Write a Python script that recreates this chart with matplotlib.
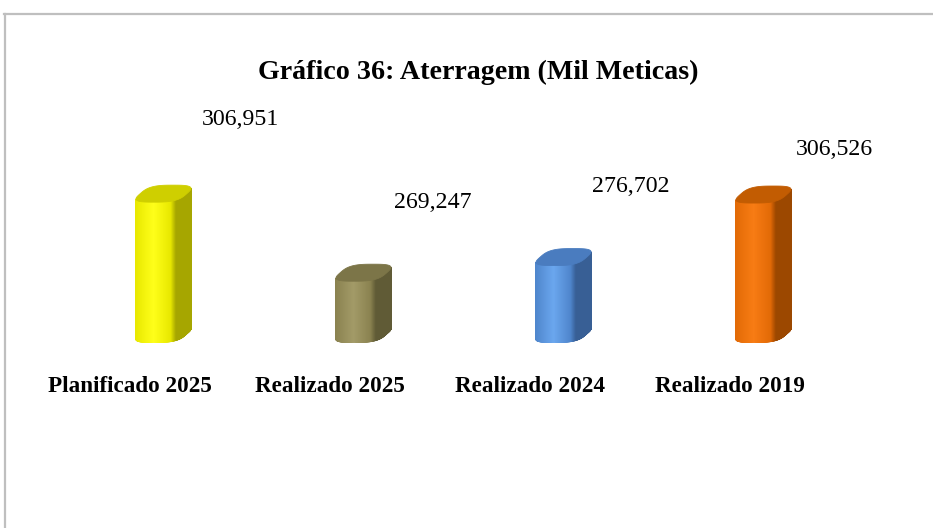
import numpy as np
import matplotlib
matplotlib.use("Agg")
import matplotlib.pyplot as plt
from matplotlib.patches import Polygon
from matplotlib.lines import Line2D
from matplotlib import transforms
from matplotlib.colors import to_rgb

categories = ['Planificado 2025', 'Realizado 2025', 'Realizado 2024', 'Realizado 2019']
values = [306951, 269247, 276702, 306526]
value_labels = ['306,951', '269,247', '276,702', '306,526']
title = 'Gráfico 36: Aterragem (Mil Meticas)'

# light / mid / dark / cap tones for each cylinder
bar_colors = [
    ('#ffff1a', '#e8e800', '#a6a600', '#cfcf00'),
    ('#a39b68', '#8a8250', '#605b36', '#7c7548'),
    ('#6ba7ef', '#4f86cc', '#385f95', '#4a7cbf'),
    ('#f87c14', '#e26a06', '#9c4800', '#c25c02'),
]
# label offsets (pixels) from the top of each cylinder
label_dx = [77, 69, 67, 71]
label_dy = [74, 70, 71, 45]

plt.rcParams['font.family'] = ['Liberation Serif', 'DejaVu Serif']

W, H = 933, 528
fig = plt.figure(figsize=(W / 100, H / 100), dpi=100)
fig.patch.set_facecolor('white')

# value axis starts at 240,000 (floor of the 3D chart)
y0, y1 = 240000, 320000
px_per_val = 1 / 477.0
ax_bottom = H - 334
ax_height = (y1 - y0) * px_per_val
ax = fig.add_axes([63.5 / W, ax_bottom / H, 800 / W, ax_height / H])
ax.set_xlim(-0.5, 3.5)
ax.set_ylim(y0, y1)
ax.axis('off')

sx_unit = 4 / 800.0              # data x per pixel
sy_unit = (y1 - y0) / ax_height  # data y per pixel

# rounded cross section, oblique projection (depth goes up-right)
n = 3.2
t = np.linspace(-np.pi, np.pi, 1441)
X = np.sign(np.cos(t)) * np.abs(np.cos(t)) ** (2 / n)
Z = np.sign(np.sin(t)) * np.abs(np.sin(t)) ** (2 / n)
px = 19.5 * X + 8.0 * Z
py = 8.5 * Z
# stretch so the silhouette is 55 px wide
px *= 55.0 / (px.max() - px.min())


def lerp(c1, c2, f):
    c1, c2 = np.array(to_rgb(c1)), np.array(to_rgb(c2))
    return tuple(c1 + (c2 - c1) * f)


def shade(u, cols):
    light, mid, dark, _ = cols
    if u < 0.33:
        return lerp(mid, light, u / 0.33)
    if u < 0.64:
        return lerp(light, mid, (u - 0.33) / 0.31)
    if u < 0.74:
        return lerp(mid, dark, (u - 0.64) / 0.10)
    return to_rgb(dark)


i_left = np.argmin(px)
i_right = np.argmax(px)
# visible arc runs from the leftmost point through the front to the rightmost
idx = np.arange(i_left, i_right + 1) if i_left < i_right else np.r_[i_left:len(t), 0:i_right + 1]
xmin, xmax = px.min(), px.max()

for i, (v, cols) in enumerate(zip(values, bar_colors)):
    cx = i
    for k in range(0, len(idx) - 1, 2):
        a, b = idx[k], idx[min(k + 2, len(idx) - 1)]
        xa, xb = cx + px[a] * sx_unit, cx + px[b] * sx_unit
        quad = [(xa, y0 + py[a] * sy_unit), (xb, y0 + py[b] * sy_unit),
                (xb, v + py[b] * sy_unit), (xa, v + py[a] * sy_unit)]
        u = ((px[a] + px[b]) / 2 - xmin) / (xmax - xmin)
        c = shade(u, cols)
        ax.add_patch(Polygon(quad, closed=True, facecolor=c, edgecolor=c,
                             linewidth=0.6, clip_on=False))
    cap = np.column_stack([cx + px * sx_unit, v + py * sy_unit])
    ax.add_patch(Polygon(cap, closed=True, facecolor=cols[3], edgecolor=cols[3],
                         linewidth=0.6, clip_on=False))

    ax.annotate(value_labels[i], xy=(cx, v), xytext=(label_dx[i], label_dy[i]),
                textcoords='offset pixels', ha='center', va='center',
                fontsize=17.2, color='black', annotation_clip=False)

# category labels sit in front of the floor, shifted left
trans = transforms.blended_transform_factory(ax.transData, fig.transFigure)
for i, name in enumerate(categories):
    ax.text(i - 33.5 / 200, 1 - 386 / H, name, transform=trans, ha='center',
            va='center', fontsize=16.7, fontweight='bold', color='black')

fig.text(478 / W, 1 - 72 / H, title, ha='center', va='center',
         fontsize=20.2, fontweight='bold', color='black')

# chart area border (top and left visible)
border = '#bfbfbf'
fig.add_artist(Line2D([4 / W, 1], [1 - 14 / H, 1 - 14 / H], color=border,
                      linewidth=1.6, transform=fig.transFigure))
fig.add_artist(Line2D([5 / W, 5 / W], [0, 1 - 14 / H], color=border,
                      linewidth=1.6, transform=fig.transFigure))

fig.savefig('out.png', dpi=100, facecolor='white')
